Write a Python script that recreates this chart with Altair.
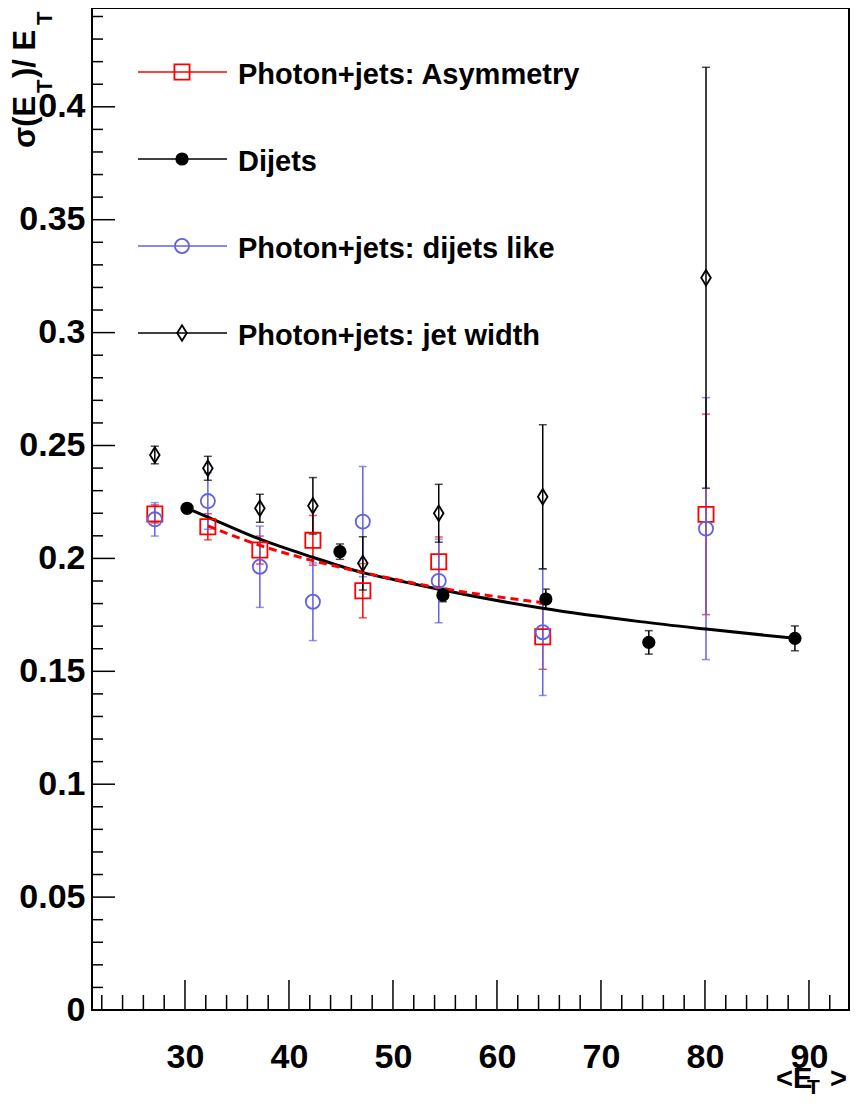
import altair as alt
import pandas as pd

# ---------------- data ----------------
# Photon+jets: Asymmetry (red open squares)
asym_x = [27.1, 32.2, 37.2, 42.3, 47.1, 54.4, 64.4, 80.1]
asym_y = [0.2197, 0.2140, 0.2037, 0.2080, 0.1857, 0.1985, 0.1653, 0.2195]
asym_err = [0.004, 0.0058, 0.0062, 0.011, 0.012, 0.011, 0.0144, 0.0444]

# Dijets (black filled circles)
dij_x = [30.2, 44.9, 54.8, 64.7, 74.6, 88.65]
dij_y = [0.2222, 0.2030, 0.1838, 0.1820, 0.1628, 0.1646]
dij_err = [0.002, 0.0034, 0.003, 0.0044, 0.0052, 0.0055]

# Photon+jets: dijets like (blue open circles)
dl_x = [27.1, 32.2, 37.2, 42.3, 47.1, 54.4, 64.4, 80.1]
dl_y = [0.2173, 0.2254, 0.1963, 0.1808, 0.2163, 0.1900, 0.1673, 0.2132]
dl_err = [0.0074, 0.0125, 0.018, 0.0172, 0.0244, 0.0185, 0.028, 0.058]

# Photon+jets: jet width (black open diamonds)
jw_x = [27.1, 32.2, 37.2, 42.3, 47.1, 54.4, 64.4, 80.1]
jw_y = [0.2458, 0.2399, 0.2222, 0.2233, 0.1978, 0.2200, 0.2273, 0.3243]
jw_err = [0.0039, 0.0053, 0.0062, 0.0125, 0.0118, 0.0128, 0.0319, 0.0932]

# fitted curves
fit_dij_x = [30.2, 32.2, 37.2, 42.3, 47.1, 50.7, 54.4, 64.4, 73.75, 80.1, 88.65]
fit_dij_y = [0.2222, 0.2183, 0.2085, 0.2005, 0.1937, 0.1900, 0.1863, 0.1779, 0.1720, 0.1687, 0.1646]
fit_asym_x = [32.2, 37.2, 42.3, 47.1, 54.4, 64.4]
fit_asym_y = [0.2144, 0.2058, 0.1990, 0.1938, 0.1870, 0.1804]

# axis ticks
x_major = [30, 40, 50, 60, 70, 80, 90]
x_minor = [22, 24, 26, 28, 32, 34, 36, 38, 42, 44, 46, 48, 52, 54, 56, 58,
           62, 64, 66, 68, 72, 74, 76, 78, 82, 84, 86, 88, 92]
y_major = [0, 0.05, 0.1, 0.15, 0.2, 0.25, 0.3, 0.35, 0.4]
y_minor = [0.01, 0.02, 0.03, 0.04, 0.06, 0.07, 0.08, 0.09, 0.11, 0.12, 0.13, 0.14,
           0.16, 0.17, 0.18, 0.19, 0.21, 0.22, 0.23, 0.24, 0.26, 0.27, 0.28, 0.29,
           0.31, 0.32, 0.33, 0.34, 0.36, 0.37, 0.38, 0.39, 0.41, 0.42, 0.43, 0.44]

legend_labels = ["Photon+jets: Asymmetry", "Dijets", "Photon+jets: dijets like", "Photon+jets: jet width"]

# ---------------- layout / style ----------------
W, H = 757, 1002
X_DOM = [21.06, 93.85]
Y_DOM = [0.0, 0.44376]
FONT = "Liberation Sans"
RED, BLACK, BLUE = "#ff0000", "#000000", "#6262e0"
DIAMOND = "M0,-1L0.62,0L0,1L-0.62,0Z"

xs = alt.Scale(domain=X_DOM, nice=False, zero=False)
ys = alt.Scale(domain=Y_DOM, nice=False, zero=False)
x_axis = alt.Axis(values=x_major, labelFontSize=34, labelFont=FONT, labelFontWeight="bold",
                  labelColor="black", ticks=False, tickSize=0, domain=False, grid=False,
                  labelPadding=30, title=None, labelFlush=False, labelOverlap=False)
y_axis = alt.Axis(values=y_major, format="~g", labelFontSize=34, labelFont=FONT,
                  labelFontWeight="bold", labelColor="black", ticks=False, tickSize=0,
                  domain=False, grid=False, labelPadding=7, title=None,
                  labelFlush=False, labelOverlap=False)


def X(f):
    return alt.X(f, type="quantitative", scale=xs, axis=x_axis)


def Y(f):
    return alt.Y(f, type="quantitative", scale=ys, axis=y_axis)


series = [
    dict(x=asym_x, y=asym_y, e=asym_err, color=RED, shape="square", filled=False, size=230),
    dict(x=dij_x, y=dij_y, e=dij_err, color=BLACK, shape="circle", filled=True, size=175),
    dict(x=dl_x, y=dl_y, e=dl_err, color=BLUE, shape="circle", filled=False, size=200),
    dict(x=jw_x, y=jw_y, e=jw_err, color=BLACK, shape=DIAMOND, filled=False, size=240),
]

layers = []

# tick marks (inside the frame)
layers.append(alt.Chart(pd.DataFrame({"v": y_major})).mark_rule(color="black", strokeWidth=1.5)
              .encode(y=Y("v"), x=alt.value(0), x2=alt.value(23)))
layers.append(alt.Chart(pd.DataFrame({"v": y_minor})).mark_rule(color="black", strokeWidth=1.5)
              .encode(y=Y("v"), x=alt.value(0), x2=alt.value(11)))
layers.append(alt.Chart(pd.DataFrame({"v": x_major})).mark_rule(color="black", strokeWidth=1.5)
              .encode(x=X("v"), y=alt.value(H), y2=alt.value(H - 30)))
layers.append(alt.Chart(pd.DataFrame({"v": x_minor})).mark_rule(color="black", strokeWidth=1.5)
              .encode(x=X("v"), y=alt.value(H), y2=alt.value(H - 15)))

# error bars
for s in series:
    df = pd.DataFrame({"x": s["x"], "y": s["y"], "e": s["e"]})
    df["lo"] = df["y"] - df["e"]
    df["hi"] = df["y"] + df["e"]
    base = alt.Chart(df)
    layers.append(base.mark_rule(color=s["color"], strokeWidth=1.5)
                  .encode(x=X("x"), y=Y("lo"), y2=alt.Y2("hi")))
    layers.append(base.mark_tick(color=s["color"], orient="horizontal", size=8, thickness=1.5)
                  .encode(x=X("x"), y=Y("lo")))
    layers.append(base.mark_tick(color=s["color"], orient="horizontal", size=8, thickness=1.5)
                  .encode(x=X("x"), y=Y("hi")))

# fitted curves
layers.append(alt.Chart(pd.DataFrame({"x": fit_dij_x, "y": fit_dij_y}))
              .mark_line(color="black", strokeWidth=3, interpolate="monotone")
              .encode(x=X("x"), y=Y("y")))
layers.append(alt.Chart(pd.DataFrame({"x": fit_asym_x, "y": fit_asym_y}))
              .mark_line(color=RED, strokeWidth=3, strokeDash=[8, 5], interpolate="monotone")
              .encode(x=X("x"), y=Y("y")))


def marker(df, s, xenc, yenc):
    kw = dict(shape=s["shape"], size=s["size"], strokeWidth=1.8, opacity=1)
    if s["filled"]:
        mk = alt.Chart(df).mark_point(filled=True, color=s["color"], **kw)
    else:
        mk = alt.Chart(df).mark_point(filled=False, color=s["color"], **kw)
    return mk.encode(x=xenc, y=yenc)


# markers
for s in series:
    df = pd.DataFrame({"x": s["x"], "y": s["y"]})
    layers.append(marker(df, s, X("x"), Y("y")))

# legend
row_line_y = [64, 151, 238, 325]
row_text_y = [76, 163, 250, 337]
for i, s in enumerate(series):
    one = pd.DataFrame({"t": [legend_labels[i]]})
    layers.append(alt.Chart(one).mark_rule(color=s["color"], strokeWidth=1.5)
                  .encode(x=alt.value(46), x2=alt.value(135), y=alt.value(row_line_y[i])))
    layers.append(marker(one, s, alt.value(90), alt.value(row_line_y[i])))
    layers.append(alt.Chart(one).mark_text(font=FONT, fontSize=29, fontWeight="bold", color="black",
                                           align="left", baseline="alphabetic")
                  .encode(x=alt.value(146), y=alt.value(row_text_y[i]), text="t:N"))


# axis titles built from pieces (subscripts)
def txt(t, x, y, size, angle=0):
    return (alt.Chart(pd.DataFrame({"t": [t]}))
            .mark_text(font=FONT, fontSize=size, fontWeight="bold", color="black",
                       align="left", baseline="alphabetic", angle=angle)
            .encode(x=alt.value(x), y=alt.value(y), text="t:N"))


layers += [
    txt("σ(E", -57, 140, 31, 270),
    txt("T", -40, 85, 22, 270),
    txt(")/ E", -57, 70, 31, 270),
    txt("T", -40, 17, 22, 270),
    txt("<E", 684, 1080, 29),
    txt("T", 715, 1086, 21),
    txt(">", 738, 1080, 29),
]

chart = (alt.layer(*layers)
         .properties(width=W, height=H,
                     autosize=alt.AutoSizeParams(type="none"),
                     padding={"left": 84, "top": 0, "right": 1, "bottom": 88},
                     background="white")
         .configure_view(stroke="black", strokeWidth=2))

chart.save("out.html", embed_options={"renderer": "svg", "actions": False})
